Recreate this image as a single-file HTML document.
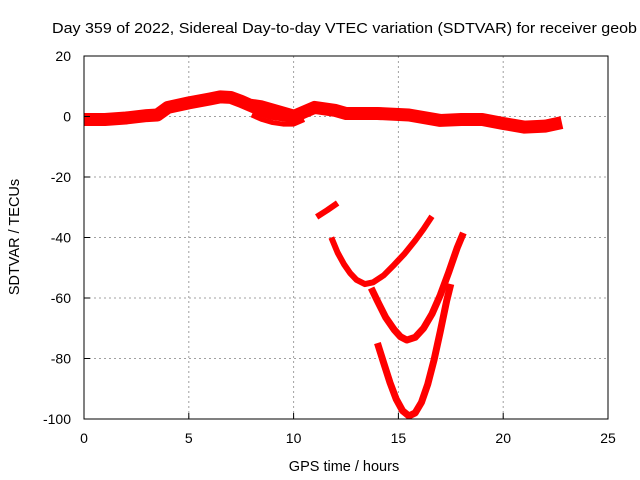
<!DOCTYPE html>
<html><head><meta charset="utf-8"><style>
body{margin:0;background:#fff;overflow:hidden}
svg{display:block;font-family:"Liberation Sans",sans-serif}
</style></head><body>
<svg id="chart" width="640" height="480">
<rect width="640" height="480" fill="#fff"/>
<text x="52" y="33" font-size="14.5" textLength="585" lengthAdjust="spacingAndGlyphs">Day 359 of 2022, Sidereal Day-to-day VTEC variation (SDTVAR) for receiver geob</text>
<g id="grid"></g>
<g id="series"></g>
<rect x="84" y="56" width="524" height="363" fill="none" stroke="#000" stroke-width="1"/>
<g id="ticks"></g>
<text x="344" y="471" font-size="14.5" text-anchor="middle">GPS time / hours</text>
<text transform="translate(19,237) rotate(-90)" font-size="14.5" text-anchor="middle">SDTVAR / TECUs</text>
</svg>
<script>
const xTicks=[0,5,10,15,20,25];
const yTicks=[20,0,-20,-40,-60,-80,-100];
const bandX=[0,1,2,3,3.5,4,5,6,6.5,7,7.5,8,8.5,9,10,10.5,11,12,12.5,14,15.5,17,18,19,20,21,22,22.8];
const bandY=[-1,-1,-0.5,0.3,0.5,3,4.5,5.8,6.5,6.3,5,3.5,2,1,0,1.5,3,2,1,1,0.5,-1.3,-1,-1,-2.3,-3.5,-3.2,-2];
const lowX=[8,8.5,9,9.5,10,10.5];
const lowY=[0.5,-1,-2,-2.5,-2.5,-1];
const upX=[8,8.5,9,9.5,10];
const upY=[5,4.5,3.5,2.5,1.5];
const arcAX=[11.1,11.6,12.1];
const arcAY=[-33.2,-31,-28.6];
const arcBX=[11.8,12.1,12.4,12.7,13,13.4,13.8,14.3,14.8,15.3,15.8,16.2,16.6];
const arcBY=[-40,-45,-48.8,-51.8,-54,-55.4,-54.8,-52.5,-49,-45.3,-41,-37.2,-33];
const arcCX=[13.7,14,14.4,14.8,15.1,15.4,15.8,16.2,16.6,17,17.4,17.8,18.1];
const arcCY=[-56.7,-61,-66.5,-70.5,-72.8,-73.9,-73,-70,-65.3,-59,-51.5,-43.5,-38.5];
const arcDX=[14,14.3,14.6,14.9,15.2,15.5,15.8,16.1,16.4,16.7,17,17.3,17.5];
const arcDY=[-74.9,-81.5,-88,-93.5,-97.3,-99,-98,-94.5,-88.5,-80.5,-71,-61,-55.4];
const X=v=>84+v*(524/25);
const Y=v=>56+(20-v)*(363/120);
const NS='http://www.w3.org/2000/svg';
const grid=document.getElementById('grid'),ticks=document.getElementById('ticks'),ser=document.getElementById('series');
function mk(tag,attrs,parent){const e=document.createElementNS(NS,tag);for(const k in attrs)e.setAttribute(k,attrs[k]);parent.appendChild(e);return e;}
xTicks.forEach(t=>{
 if(t>0&&t<25){const l=mk('line',{x1:X(t),x2:X(t),y1:56,y2:419,stroke:'#a0a0a0','stroke-dasharray':'2,3'},grid);
 
 }
 const tk=mk('line',{x1:X(t),x2:X(t),y1:419,y2:413,stroke:'#000'},ticks);
 
 
 const tx=mk('text',{x:X(t),y:443,'font-size':14,'text-anchor':'middle'},ticks);tx.textContent=t;
 
 
});
yTicks.forEach(t=>{
 if(t<20&&t>-100){const l=mk('line',{x1:84,x2:608,y1:Y(t),y2:Y(t),stroke:'#a0a0a0','stroke-dasharray':'2,3'},grid);
 
 }
 const tk=mk('line',{x1:84,x2:90,y1:Y(t),y2:Y(t),stroke:'#000'},ticks);
 
 
 const tx=mk('text',{x:71,y:Y(t)+5,'font-size':14,'text-anchor':'end'},ticks);tx.textContent=t;
 
 
});
function line(xs,ys,w,name){
 const p=mk('polyline',{points:xs.map((x,i)=>X(x)+','+Y(ys[i])).join(' '),fill:'none',stroke:'#ff0000','stroke-width':w,'stroke-linejoin':'round'},ser);
 
 
}
line(bandX,bandY,13,'main-band');
line(lowX,lowY,5,'lower-branch');
line(upX,upY,5,'upper-branch');
line(arcAX,arcAY,6,'arc-a');
line(arcBX,arcBY,6,'arc-b');
line(arcCX,arcCY,7,'arc-c');
line(arcDX,arcDY,7,'arc-d');
</script>
</body></html>
